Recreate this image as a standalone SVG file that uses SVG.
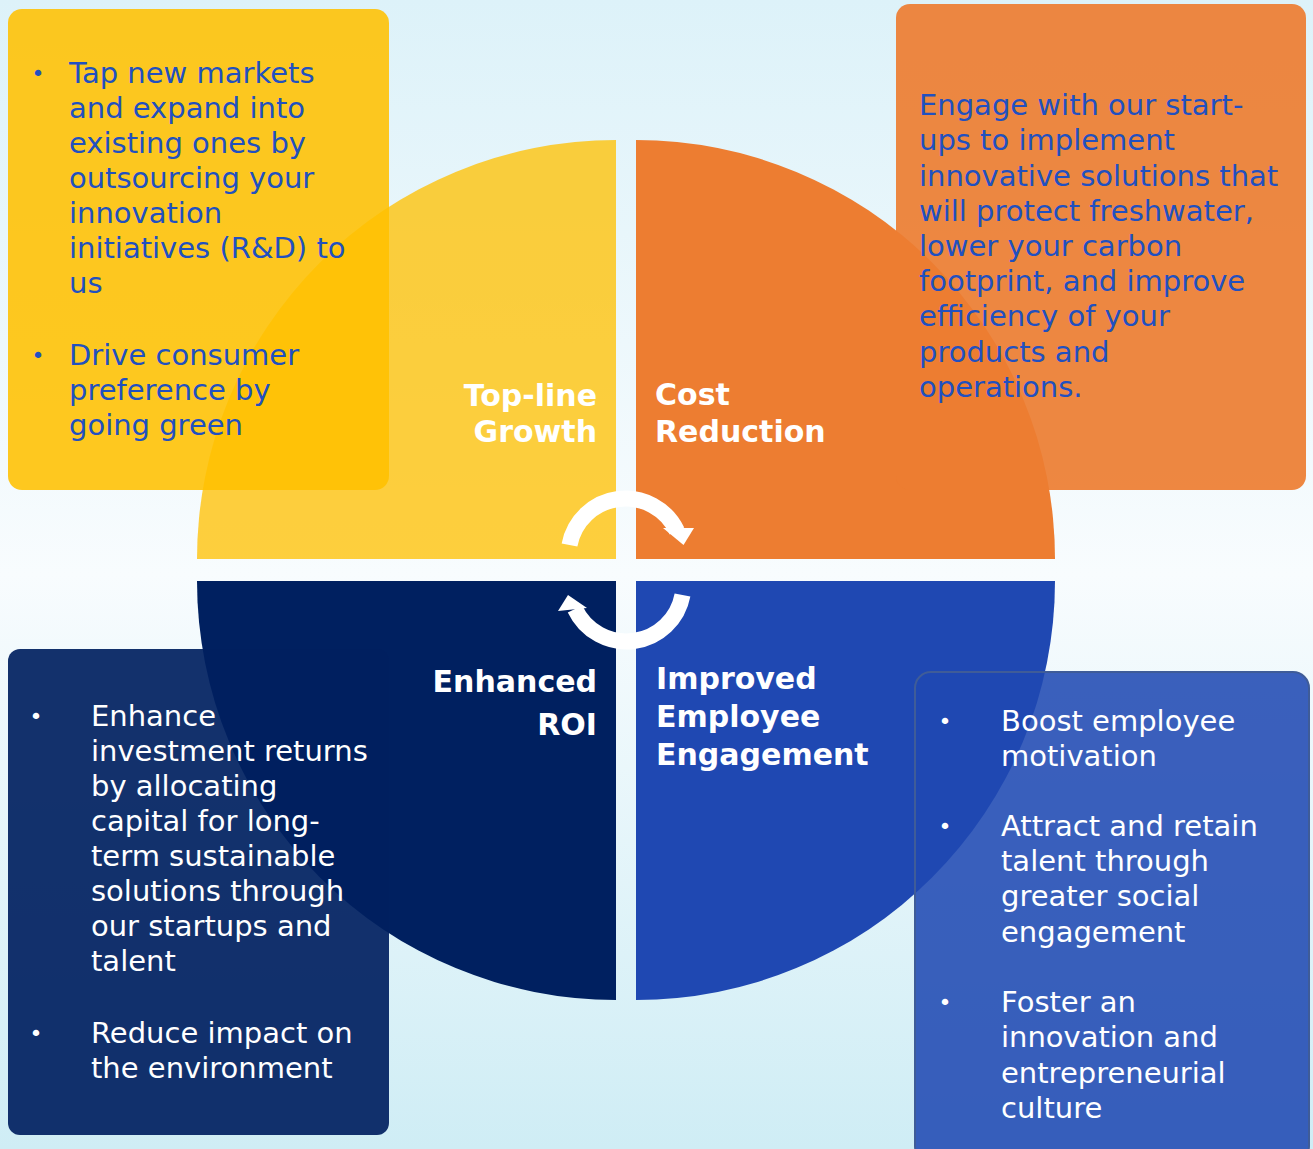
<svg xmlns="http://www.w3.org/2000/svg" width="1313" height="1149" viewBox="0 0 1313 1149">
  <defs>
    <linearGradient id="bg" x1="0" y1="0" x2="0" y2="1">
      <stop offset="0" stop-color="#DDF2F9"/>
      <stop offset="0.5" stop-color="#F8FCFE"/>
      <stop offset="1" stop-color="#CFEDF5"/>
    </linearGradient>
  </defs>
  <style>
    .body { font-family: "DejaVu Sans", "Open Sans", sans-serif; font-size: 29px; }
    .bul { font-family: "DejaVu Sans", "Open Sans", sans-serif; font-size: 22px; }
    .blue { fill: #2150C0; }
    .white { fill: #FFFFFF; }
    .label { font-family: "DejaVu Sans", "Open Sans", sans-serif; font-size: 30px; font-weight: 700; fill: #FFFFFF; }
    .end { text-anchor: end; }
    .arc { fill: none; stroke: #FFFFFF; stroke-width: 16; }
  </style>
  <rect x="0" y="0" width="1313" height="1149" fill="url(#bg)"/>

  <g id="quadrants">
    <path id="q-topline" d="M 616 559 L 197 559 A 419 419 0 0 1 616 140 Z" fill="#FFC000" fill-opacity="0.76"/>
    <path id="q-cost" d="M 636 559 L 636 140 A 419 419 0 0 1 1055 559 Z" fill="#ED7D31"/>
    <path id="q-emp" d="M 636 581 L 1055 581 A 419 419 0 0 1 636 1000 Z" fill="#1F48B2"/>
    <path id="q-roi" d="M 616 581 L 616 1000 A 419 419 0 0 1 197 581 Z" fill="#002060"/>
  </g>

  <g id="box-topline">
    <rect x="8" y="9" width="381" height="481" rx="14" fill="#FFC000" fill-opacity="0.88"/>
    <text class="bul blue" x="31.5" y="81">•</text>
    <text class="body blue">
      <tspan x="69" y="83">Tap new markets</tspan>
      <tspan x="69" y="118">and expand into</tspan>
      <tspan x="69" y="153">existing ones by</tspan>
      <tspan x="69" y="188">outsourcing your</tspan>
      <tspan x="69" y="223">innovation</tspan>
      <tspan x="69" y="258">initiatives (R&amp;D) to</tspan>
      <tspan x="69" y="293">us</tspan>
    </text>
    <text class="bul blue" x="31.5" y="363">•</text>
    <text class="body blue">
      <tspan x="69" y="365">Drive consumer</tspan>
      <tspan x="69" y="400">preference by</tspan>
      <tspan x="69" y="435">going green</tspan>
    </text>
  </g>

  <g id="box-cost">
    <rect x="896" y="4" width="410" height="486" rx="14" fill="#ED7D31" fill-opacity="0.92"/>
    <text class="body blue">
      <tspan x="919" y="115">Engage with our start-</tspan>
      <tspan x="919" y="150">ups to implement</tspan>
      <tspan x="919" y="186">innovative solutions that</tspan>
      <tspan x="919" y="221">will protect freshwater,</tspan>
      <tspan x="919" y="256">lower your carbon</tspan>
      <tspan x="919" y="291">footprint, and improve</tspan>
      <tspan x="919" y="326">efficiency of your</tspan>
      <tspan x="919" y="362">products and</tspan>
      <tspan x="919" y="397">operations.</tspan>
    </text>
  </g>

  <g id="box-roi">
    <rect x="8" y="649" width="381" height="486" rx="12" fill="#002060" fill-opacity="0.92"/>
    <text class="bul white" x="29.5" y="724">•</text>
    <text class="body white">
      <tspan x="91" y="726">Enhance</tspan>
      <tspan x="91" y="761">investment returns</tspan>
      <tspan x="91" y="796">by allocating</tspan>
      <tspan x="91" y="831">capital for long-</tspan>
      <tspan x="91" y="866">term sustainable</tspan>
      <tspan x="91" y="901">solutions through</tspan>
      <tspan x="91" y="936">our startups and</tspan>
      <tspan x="91" y="971">talent</tspan>
    </text>
    <text class="bul white" x="29.5" y="1041">•</text>
    <text class="body white">
      <tspan x="91" y="1043">Reduce impact on</tspan>
      <tspan x="91" y="1078">the environment</tspan>
    </text>
  </g>

  <g id="box-emp">
    <rect x="915" y="672" width="394" height="490" rx="16" fill="#1F48B2" fill-opacity="0.87" stroke="#3F5C98" stroke-width="2"/>
    <text class="bul white" x="938.5" y="729">•</text>
    <text class="body white">
      <tspan x="1001" y="731">Boost employee</tspan>
      <tspan x="1001" y="766">motivation</tspan>
    </text>
    <text class="bul white" x="938.5" y="834">•</text>
    <text class="body white">
      <tspan x="1001" y="836">Attract and retain</tspan>
      <tspan x="1001" y="871">talent through</tspan>
      <tspan x="1001" y="906">greater social</tspan>
      <tspan x="1001" y="942">engagement</tspan>
    </text>
    <text class="bul white" x="938.5" y="1010">•</text>
    <text class="body white">
      <tspan x="1001" y="1012">Foster an</tspan>
      <tspan x="1001" y="1047">innovation and</tspan>
      <tspan x="1001" y="1083">entrepreneurial</tspan>
      <tspan x="1001" y="1118">culture</tspan>
    </text>
  </g>

  <g id="labels">
    <text class="label end" x="597" y="406">Top-line</text>
    <text class="label end" x="597" y="442">Growth</text>
    <text class="label" x="655" y="405">Cost</text>
    <text class="label" x="655" y="442">Reduction</text>
    <text class="label end" x="597" y="692">Enhanced</text>
    <text class="label end" x="597" y="735">ROI</text>
    <text class="label" x="656" y="689">Improved</text>
    <text class="label" x="656" y="727">Employee</text>
    <text class="label" x="656" y="765">Engagement</text>
  </g>

  <g id="connectors">
    <path class="arc" d="M 569.5 545 A 57 57 0 0 1 677 531"/>
    <polygon points="663,528 694,528 683.5,545" fill="#FFFFFF"/>
    <path class="arc" d="M 682.5 595 A 57 57 0 0 1 575 609"/>
    <polygon points="568,595 558,611 587,608" fill="#FFFFFF"/>
  </g>
</svg>
